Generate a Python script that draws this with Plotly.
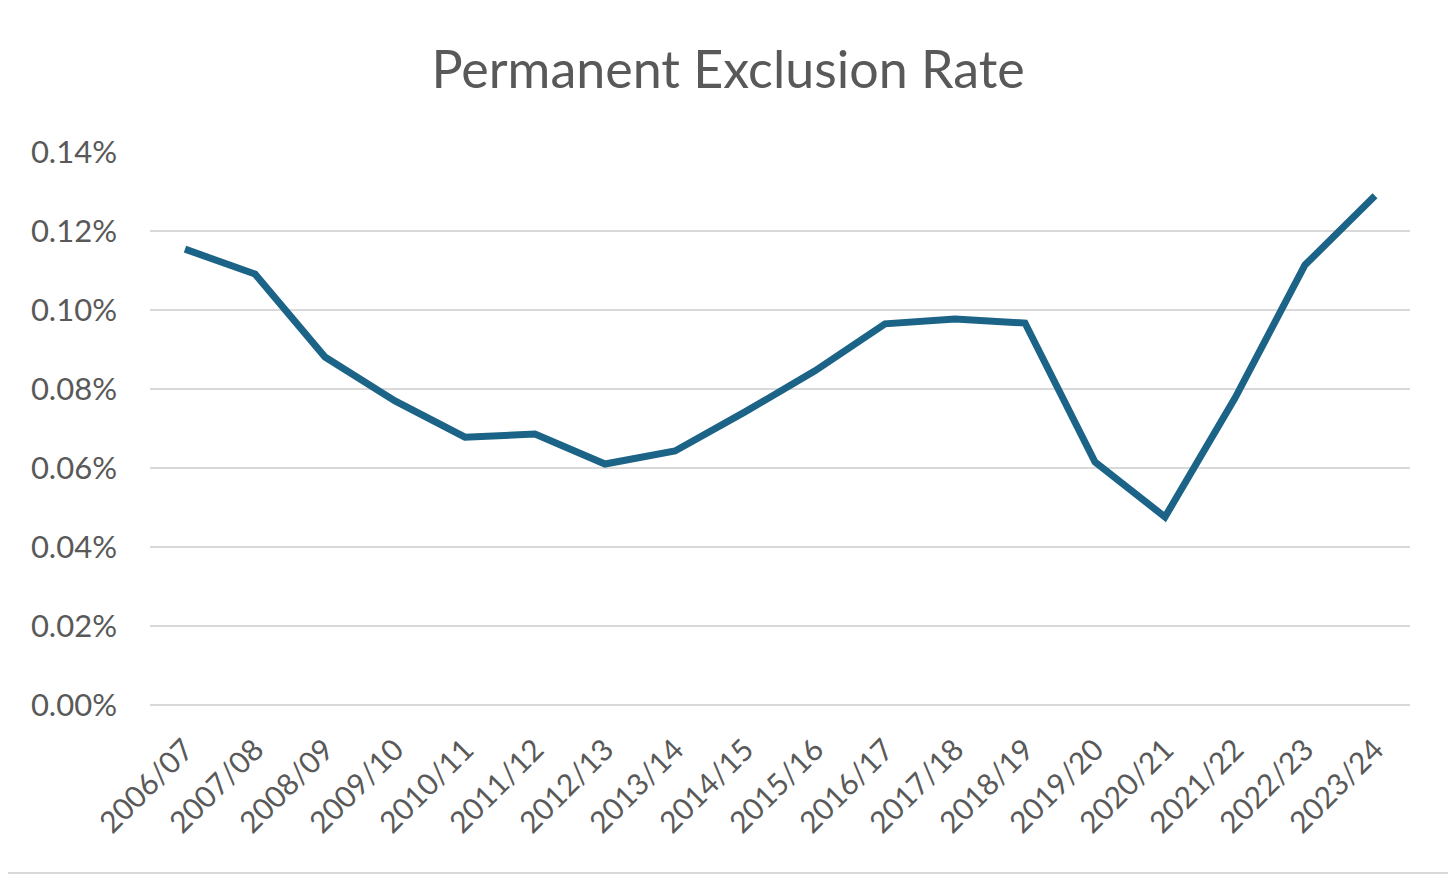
import plotly.graph_objects as go

# school years and permanent exclusion rate (as fraction)
years = [
    "2006/07", "2007/08", "2008/09", "2009/10", "2010/11", "2011/12",
    "2012/13", "2013/14", "2014/15", "2015/16", "2016/17", "2017/18",
    "2018/19", "2019/20", "2020/21", "2021/22", "2022/23", "2023/24",
]
rate = [
    0.001154, 0.001091, 0.000881, 0.000770, 0.000678, 0.000686,
    0.000610, 0.000643, 0.000742, 0.000846, 0.000965, 0.000977,
    0.000967, 0.000615, 0.000476, 0.000777, 0.001114, 0.001289,
]
y_ticks = [0, 0.0002, 0.0004, 0.0006, 0.0008, 0.0010, 0.0012, 0.0014]

font_family = "Lato, 'Noto Sans', sans-serif"
text_grey = "#595959"

# the page puts the figure 8px in from the corner, so margins are shifted
W, H = 1456, 875
ml, mr, mt, mb = 142, 54, 144, 178
pw, ph = W - ml - mr, H - mt - mb

fig = go.Figure(go.Scatter(
    x=years,
    y=rate,
    mode="lines",
    line=dict(color="#1b6387", width=7),
))

fig.update_layout(
    width=W,
    height=H,
    paper_bgcolor="white",
    plot_bgcolor="white",
    showlegend=False,
    font=dict(family=font_family, color=text_grey),
    title=dict(
        text="Permanent Exclusion Rate",
        x=720 / W,
        xanchor="center",
        xref="container",
        y=1 - 62 / H,
        yanchor="middle",
        font=dict(size=52, color=text_grey, family=font_family),
    ),
    margin=dict(l=ml, r=mr, t=mt, b=mb),
    xaxis=dict(
        range=[-0.5, len(years) - 0.5],
        showgrid=False,
        tickangle=-45,
        tickfont=dict(size=30),
        showline=False,
        ticks="",
        ticklabelstandoff=20,
    ),
    yaxis=dict(
        range=[0, 0.0014],
        tickvals=y_ticks,
        tickformat=".2%",
        tickfont=dict(size=31),
        gridcolor="#d9d9d9",
        gridwidth=2,
        zeroline=True,
        zerolinecolor="#d9d9d9",
        zerolinewidth=2,
        ticks="",
        ticklabelstandoff=32,
    ),
    shapes=[dict(
        type="rect", xref="paper", yref="paper",
        x0=-(ml + 8) / pw, x1=1 + (mr - 10) / pw,
        y0=-(mb - 10) / ph, y1=1 + (mt + 8) / ph,
        line=dict(color="#d9d9d9", width=2),
        layer="below",
    )],
)

fig.write_html("out.html")
